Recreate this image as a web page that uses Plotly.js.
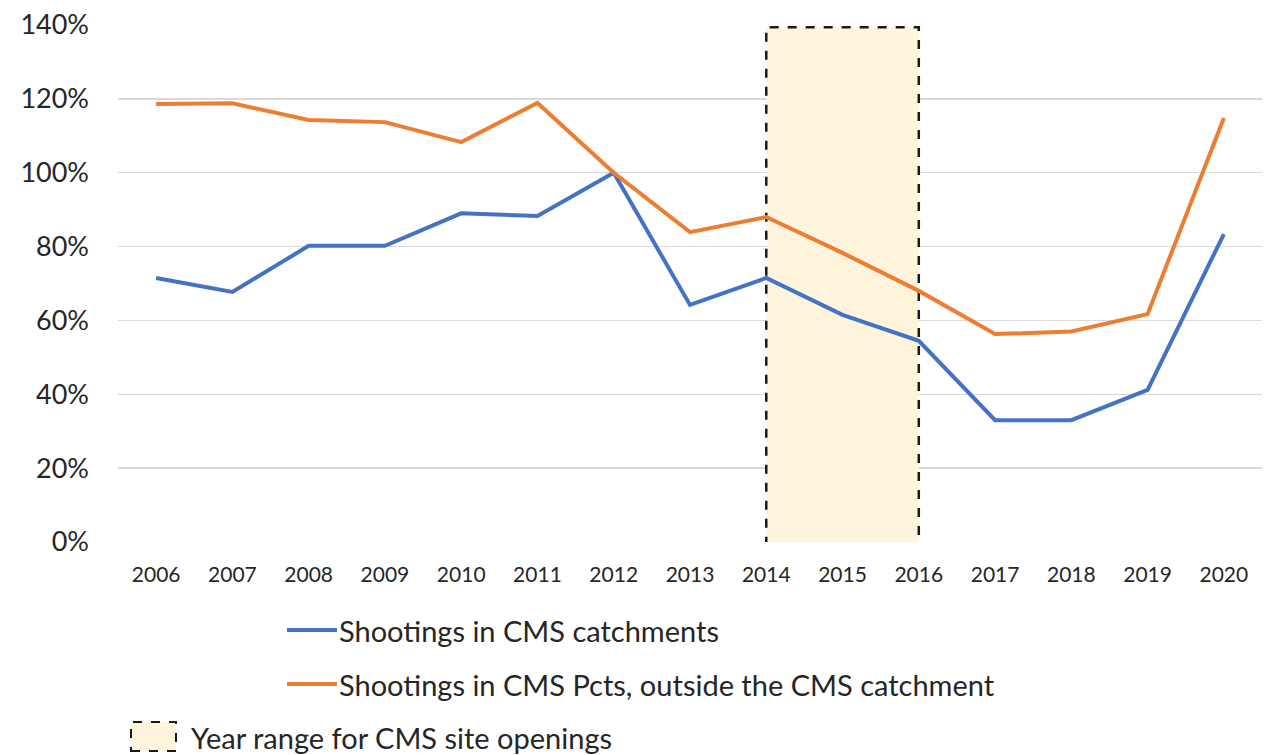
<!DOCTYPE html>
<html>
<head>
<meta charset="utf-8">
<script src="https://cdn.plot.ly/plotly-3.0.1.min.js"></script>
<style>html,body{margin:0;padding:0;background:#fff;}#chart{width:1274px;height:755px;}</style>
</head>
<body>
<div id="chart"></div>
<script>
const years = ['2006','2007','2008','2009','2010','2011','2012','2013','2014','2015','2016','2017','2018','2019','2020'];
const catchment = [71.5, 67.7, 80.2, 80.2, 89.0, 88.3, 100, 64.2, 71.5, 61.5, 54.5, 33.0, 33.0, 41.2, 83.4];
const outside = [118.6, 118.8, 114.3, 113.7, 108.3, 118.9, 100, 83.9, 88.0, 78.3, 68.0, 56.3, 57.0, 61.7, 114.8];
const seriesNames = ['Shootings in CMS catchments', 'Shootings in CMS Pcts, outside the CMS catchment', 'Year range for CMS site openings'];
const shadeStart = '2014';
const shadeEnd = '2016';
const yTicks = [0, 20, 40, 60, 80, 100, 120, 140];

const blue = '#4472C4', orange = '#ED7D31', fillC = '#FFF4DC';
const FONT = 'Lato, "Open Sans", sans-serif';
const L = 118, R = 1262, T = 25, B = 542, W = 1274, H = 755;
const px = v => (v - L) / (R - L);
const py = v => (B - v) / (B - T);

const traces = [
  {x: years, y: catchment, type: 'scatter', mode: 'lines', name: seriesNames[0], line: {color: blue, width: 4}, showlegend: false},
  {x: years, y: outside, type: 'scatter', mode: 'lines', name: seriesNames[1], line: {color: orange, width: 4}, showlegend: false}
];

const shapes = [
  {type: 'rect', xref: 'x', yref: 'y', x0: years.indexOf(shadeStart), x1: years.indexOf(shadeEnd), y0: -0.7, y1: 139.4,
   fillcolor: fillC, line: {color: '#1a1a1a', width: 2.5, dash: 'dash'}, layer: 'between'},
  {type: 'line', xref: 'paper', yref: 'paper', x0: px(287), x1: px(337), y0: py(630), y1: py(630), line: {color: blue, width: 4}},
  {type: 'line', xref: 'paper', yref: 'paper', x0: px(287), x1: px(337), y0: py(684), y1: py(684), line: {color: orange, width: 4}},
  {type: 'rect', xref: 'paper', yref: 'paper', x0: px(131), x1: px(176), y0: py(751), y1: py(722),
   fillcolor: fillC, line: {color: '#1a1a1a', width: 2, dash: 'dash'}}
];

const lf = {family: FONT, size: 29, color: '#262626'};
const annotations = [
  {xref: 'paper', yref: 'paper', x: px(337), y: py(630), xanchor: 'left', yanchor: 'middle', showarrow: false, text: seriesNames[0], font: lf},
  {xref: 'paper', yref: 'paper', x: px(337), y: py(684), xanchor: 'left', yanchor: 'middle', showarrow: false, text: seriesNames[1], font: lf},
  {xref: 'paper', yref: 'paper', x: px(189), y: py(737), xanchor: 'left', yanchor: 'middle', showarrow: false, text: seriesNames[2], font: lf}
];

const layout = {
  width: W, height: H,
  margin: {l: L, r: W - R, t: T, b: H - B},
  paper_bgcolor: '#fff', plot_bgcolor: '#fff',
  showlegend: false,
  font: {family: FONT, color: '#262626'},
  xaxis: {type: 'category', categoryarray: years, showgrid: false, zeroline: false, showline: false, ticks: '',
          tickfont: {family: FONT, size: 21, color: '#262626'}, ticklabelstandoff: 18, range: [-0.5, years.length - 0.5], fixedrange: true},
  yaxis: {range: [0, 140], tickvals: yTicks, ticktext: yTicks.map(v => v + '%'), showgrid: true, gridcolor: '#d9d9d9', gridwidth: 1.5,
          zeroline: false, showline: false, ticks: '', tickfont: {family: FONT, size: 27, color: '#262626'}, ticklabelstandoff: 28, fixedrange: true},
  shapes: shapes,
  annotations: annotations
};

Plotly.newPlot('chart', traces, layout, {displayModeBar: false, staticPlot: true});
</script>
</body>
</html>
